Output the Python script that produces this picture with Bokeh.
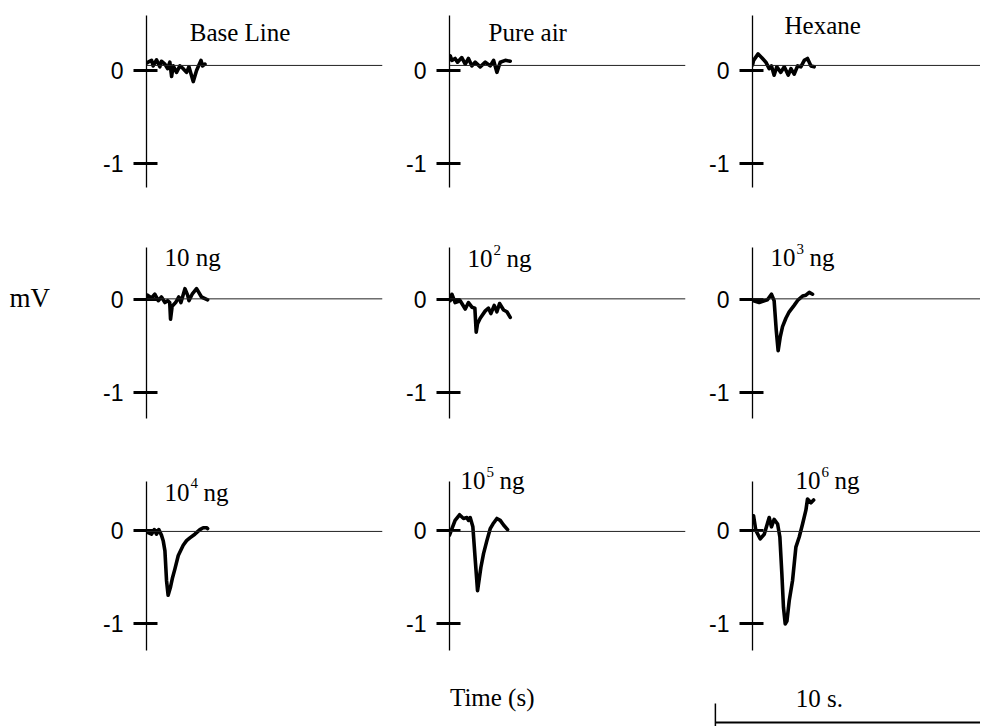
from bokeh.plotting import figure
from bokeh.layouts import column, row
from bokeh.models import Range1d, FixedTicker, Span, Label, ColumnDataSource
from bokeh.embed import file_html
from bokeh.resources import INLINE

# ---------------- data (time in s, response in mV) ----------------
t_base = [0.0, 0.06, 0.19, 0.25, 0.375, 0.5, 0.56, 0.69, 0.79, 0.875, 0.94, 1.0, 1.125, 1.25, 1.375, 1.5, 1.59, 1.75, 1.875, 2.04, 2.1, 2.19]
v_base = [0.08, 0.09, 0.11, 0.05, 0.115, 0.04, 0.10, 0.07, 0.02, 0.09, -0.065, 0.05, -0.02, 0.05, 0.02, -0.02, 0.04, -0.12, 0.00, 0.11, 0.05, 0.07]

t_air = [0.0, 0.025, 0.09, 0.21, 0.3, 0.46, 0.59, 0.71, 0.84, 0.96, 1.15, 1.34, 1.525, 1.65, 1.775, 1.9, 2.09, 2.275]
v_air = [0.12, 0.16, 0.11, 0.13, 0.09, 0.14, 0.07, 0.13, 0.05, 0.09, 0.04, 0.09, 0.05, 0.11, -0.02, 0.09, 0.11, 0.10]

t_hex = [0.0, 0.04, 0.21, 0.375, 0.5, 0.625, 0.71, 0.81, 0.91, 1.06, 1.19, 1.34, 1.44, 1.56, 1.69, 1.81, 1.94, 2.06, 2.19, 2.31]
v_hex = [0.06, 0.11, 0.18, 0.13, 0.09, 0.02, 0.05, -0.05, 0.04, -0.02, 0.04, -0.05, 0.02, -0.04, 0.05, 0.04, 0.11, 0.13, 0.05, 0.04]

t_1e1 = [0.0, 0.04, 0.19, 0.31, 0.44, 0.56, 0.69, 0.79, 0.87, 0.9, 0.96, 1.09, 1.21, 1.29, 1.44, 1.54, 1.59, 1.71, 1.875, 2.06, 2.29]
v_1e1 = [0.02, 0.05, 0.02, 0.06, -0.01, 0.03, -0.03, -0.01, -0.03, -0.21, -0.07, -0.03, 0.03, -0.03, 0.12, 0.05, -0.01, 0.06, 0.12, 0.03, 0.00]

t_1e2 = [0.0, 0.025, 0.09, 0.21, 0.4, 0.59, 0.71, 0.84, 0.95, 1.0, 1.05, 1.15, 1.34, 1.46, 1.55, 1.675, 1.775, 1.875, 2.025, 2.15, 2.275]
v_1e2 = [0.0, -0.01, 0.06, -0.03, -0.01, -0.10, -0.03, -0.08, -0.09, -0.35, -0.26, -0.20, -0.12, -0.09, -0.15, -0.06, -0.13, -0.04, -0.11, -0.13, -0.19]

t_1e3 = [0.0, 0.04, 0.25, 0.44, 0.56, 0.71, 0.81, 0.89, 0.96, 1.04, 1.125, 1.25, 1.375, 1.56, 1.71, 1.875, 2.0, 2.125, 2.25]
v_1e3 = [0.0, -0.01, -0.03, -0.01, 0.0, 0.06, -0.01, -0.33, -0.55, -0.40, -0.29, -0.20, -0.13, -0.06, 0.0, 0.04, 0.05, 0.08, 0.06]

t_1e4 = [0.0, 0.04, 0.19, 0.29, 0.375, 0.46, 0.56, 0.625, 0.69, 0.75, 0.81, 0.9, 0.975, 1.06, 1.19, 1.375, 1.5, 1.625, 1.81, 2.0, 2.125, 2.25, 2.29]
v_1e4 = [-0.02, -0.02, -0.04, 0.01, -0.04, 0.01, -0.05, -0.11, -0.22, -0.54, -0.70, -0.61, -0.51, -0.42, -0.27, -0.16, -0.11, -0.08, -0.04, 0.01, 0.03, 0.03, 0.02]

t_1e5 = [0.0, 0.21, 0.375, 0.525, 0.65, 0.71, 0.775, 0.875, 0.96, 1.05, 1.175, 1.275, 1.4, 1.525, 1.625, 1.775, 1.9, 2.025, 2.175]
v_1e5 = [-0.05, 0.11, 0.17, 0.13, 0.14, 0.11, 0.14, 0.04, -0.30, -0.65, -0.40, -0.25, -0.11, 0.02, 0.07, 0.13, 0.11, 0.06, 0.01]

t_1e6 = [0.0, 0.04, 0.125, 0.29, 0.44, 0.625, 0.71, 0.81, 0.94, 1.025, 1.1, 1.16, 1.225, 1.29, 1.375, 1.5, 1.625, 1.75, 1.875, 2.0, 2.06, 2.19, 2.29]
v_1e6 = [0.10, 0.16, 0.0, -0.09, -0.04, 0.14, 0.04, 0.12, 0.07, -0.07, -0.47, -0.83, -1.01, -0.98, -0.76, -0.54, -0.18, -0.07, 0.07, 0.22, 0.34, 0.30, 0.33]

series_t = [t_base, t_air, t_hex, t_1e1, t_1e2, t_1e3, t_1e4, t_1e5, t_1e6]
series_v = [v_base, v_air, v_hex, v_1e1, v_1e2, v_1e3, v_1e4, v_1e5, v_1e6]

# panel titles: (main text, superscript, trailing text)
titles = [("Base Line", "", ""), ("Pure  air", "", ""), ("Hexane", "", ""),
          ("10 ng", "", ""), ("10", "2", "ng"), ("10", "3", "ng"),
          ("10", "4", "ng"), ("10", "5", "ng"), ("10", "6", "ng")]

y_ticks = [-1, 0]
y_tick_labels = {-1: "-1", 0: "0"}
baseline_mV = [0.055, 0.055, 0.055, 0.01, 0.01, 0.01, -0.01, -0.01, -0.01]
scale_bar_s = 10

# ---------------- layout / style ----------------
PX_PER_S = 26.7
PX_PER_MV = 92.5
STRIP_W = 60
col_border_left = [86, 64, 64]
col_frame_w = [236, 236, 228]
col_border_right = [3, 3, 0]
row_h = [204, 234, 222]
row_y_top = [0.757, 1.030, 0.9946]          # mV at top of each row block
axis_bounds = [(-1.265, 0.595), (-1.283, 0.565), (-1.297, 0.530)]
BOTTOM_H = 66

title_x = [1.62, 1.46, 1.20, 0.67, 0.67, 0.67, 0.67, 0.41, 1.61]
title_y = [0.416, 0.416, 0.486, 0.457, 0.446, 0.457, 0.414, 0.54, 0.54]

SERIF = "Liberation Serif"
SANS = "Liberation Sans"


def serif_label(x, y, text, size="25px", x_offset=0, y_offset=0):
    return Label(x=x, y=y, text=text, text_font=SERIF, text_font_size=size,
                 text_color="black", x_offset=x_offset, y_offset=y_offset,
                 text_baseline="alphabetic", text_align="left")


def make_panel(r, c):
    i = 3 * r + c
    w = col_frame_w[c]
    h = row_h[r]
    top = row_y_top[r]
    p = figure(width=col_border_left[c] + w + col_border_right[c], height=h,
               x_range=Range1d(0, w / PX_PER_S),
               y_range=Range1d(top - h / PX_PER_MV, top),
               x_axis_location=None, output_backend="svg", toolbar_location=None,
               min_border_left=col_border_left[c], min_border_right=col_border_right[c],
               min_border_top=0, min_border_bottom=0)
    p.outline_line_color = None
    p.grid.grid_line_color = None
    p.background_fill_color = "white"
    p.border_fill_color = "white"
    ax = p.yaxis[0]
    ax.bounds = axis_bounds[r]
    ax.ticker = FixedTicker(ticks=y_ticks)
    ax.major_label_overrides = y_tick_labels
    ax.axis_line_color = "black"
    ax.axis_line_width = 1.3
    ax.major_tick_line_color = "black"
    ax.major_tick_line_width = 3
    ax.major_tick_out = 13
    ax.major_tick_in = 11
    ax.minor_tick_line_color = None
    ax.major_label_standoff = 10
    ax.major_label_text_font = SANS
    ax.major_label_text_font_size = "23px"
    ax.major_label_text_color = "black"

    p.add_layout(Span(location=baseline_mV[i], dimension="width",
                      line_color="#222222", line_width=1))
    src = ColumnDataSource(dict(t=series_t[i], v=series_v[i]))
    p.line(x="t", y="v", source=src, line_color="black", line_width=3.6,
           line_join="round", line_cap="round")

    main, sup, tail = titles[i]
    p.add_layout(serif_label(title_x[i], title_y[i], main))
    if sup:
        p.add_layout(serif_label(title_x[i], title_y[i], sup, size="15px",
                                 x_offset=26, y_offset=9))
        p.add_layout(serif_label(title_x[i], title_y[i], tail, x_offset=39))
    return p


rows = [row(*[make_panel(r, c) for c in range(3)]) for r in range(3)]

# bottom strip: time label and scale bar (x in s, aligned to third column axis)
bottom = figure(width=sum(col_border_left) + sum(col_frame_w) + sum(col_border_right),
                height=BOTTOM_H,
                x_range=Range1d(-(752 - STRIP_W) / PX_PER_S, (980 - 752) / PX_PER_S),
                y_range=Range1d(0, BOTTOM_H),
                x_axis_location=None, y_axis_location=None,
                output_backend="svg", toolbar_location=None,
                min_border_left=0, min_border_right=0, min_border_top=0, min_border_bottom=0)
bottom.outline_line_color = None
bottom.grid.grid_line_color = None
bar_start = -1.39
bottom.segment(x0=[bar_start], y0=[4], x1=[bar_start + scale_bar_s], y1=[4],
               line_color="black", line_width=2.2)
bottom.segment(x0=[bar_start], y0=[0], x1=[bar_start], y1=[23],
               line_color="black", line_width=1.5)
bottom.add_layout(serif_label(-11.33, 29, "Time (s)"))
bottom.add_layout(serif_label(1.62, 28, "10 s."))

# left strip holding the shared unit label
total_h = sum(row_h) + BOTTOM_H
strip = figure(width=STRIP_W, height=total_h,
               x_range=Range1d(0, STRIP_W), y_range=Range1d(total_h, 0),
               x_axis_location=None, y_axis_location=None,
               output_backend="svg", toolbar_location=None,
               min_border_left=0, min_border_right=0, min_border_top=0, min_border_bottom=0)
strip.outline_line_color = None
strip.grid.grid_line_color = None
strip.add_layout(serif_label(9, 297, "mV", size="27px"))

layout = row(strip, column(*rows, bottom))
open("out.html", "w").write(file_html(layout, INLINE))
